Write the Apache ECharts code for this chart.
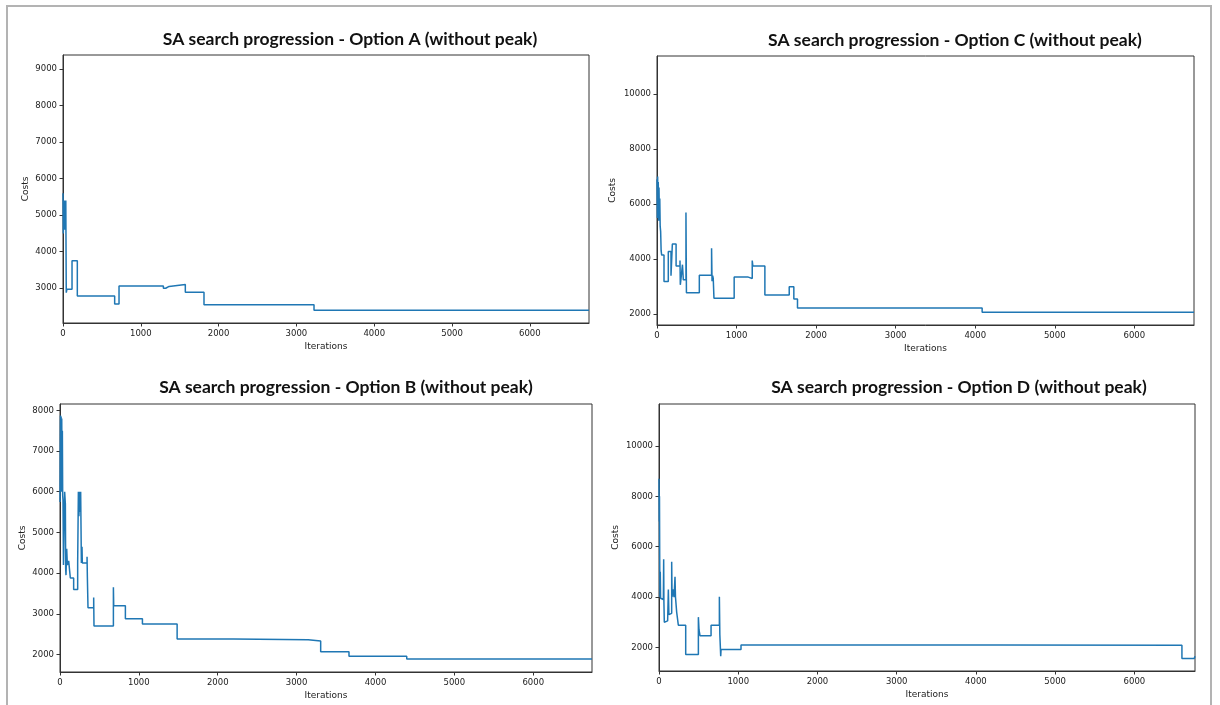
<!DOCTYPE html>
<html>
<head>
<meta charset="utf-8">
<title>SA search progression</title>
<script src="https://cdn.jsdelivr.net/npm/echarts@6.0.0/dist/echarts.min.js"></script>
<style>
    html, body { margin: 0; padding: 0; background: #fff; overflow: hidden; }
    #sa_charts { position: absolute; left: 0; top: 0; width: 1220px; height: 705px; }
    #frame { position: absolute; left: 6px; top: 5px; width: 1202px; height: 720px;
             border: 2px solid #b3b3b3; pointer-events: none; }
</style>
</head>
<body>
<div id="sa_charts"></div>
<div id="frame"></div>
<script>
// ------------------------------
// Data
// ------------------------------

var iterTicks = [0, 1000, 2000, 3000, 4000, 5000, 6000];

// Option A
var iterA = [0, 4, 8, 12, 16, 20, 24, 30, 36, 42, 50, 116, 184, 664, 720, 1290, 1320, 1363, 1572, 1812, 3226, 6760];
var costA = [5600, 4500, 5400, 4700, 5300, 4600, 5400, 5000, 5400, 2880, 2970, 3750, 2790, 2570, 3060, 3000, 3050, 3100, 2890, 2550, 2400, 2400];
var costTicksA = [3000, 4000, 5000, 6000, 7000, 8000, 9000];

// Option C
var iterC = [0, 4, 8, 12, 16, 20, 25, 30, 35, 40, 46, 52, 59, 88, 142, 176, 193, 240, 289, 293, 300, 320, 331, 364, 370, 532, 686, 692, 700, 707, 716, 970, 1147, 1197, 1205, 1356, 1662, 1720, 1766, 4087, 6750];
var costC = [6900, 5500, 7000, 6000, 6800, 5400, 6600, 5600, 6200, 5200, 5000, 4300, 4150, 3190, 4280, 3400, 4550, 3750, 3950, 3070, 3250, 3800, 3250, 5700, 2780, 3420, 4400, 3200, 3400, 3300, 2580, 3350, 3300, 3950, 3750, 2700, 3000, 2550, 2230, 2070, 2070];
var costTicksC = [2000, 4000, 6000, 8000, 10000];

// Option B
var iterB = [0, 3, 6, 10, 14, 18, 22, 26, 30, 34, 38, 44, 50, 59, 68, 72, 76, 85, 93, 110, 131, 173, 224, 233, 240, 248, 255, 262, 271, 279, 283, 343, 347, 355, 427, 431, 677, 681, 829, 1045, 1485, 2200, 3147, 3305, 3664, 4396, 6745];
var costB = [5750, 7000, 7870, 6500, 7850, 6000, 7800, 6400, 7500, 5900, 5800, 4200, 5000, 6000, 5700, 4100, 3950, 4600, 4200, 4300, 3880, 3600, 4250, 6000, 5400, 6000, 5500, 6000, 4250, 4650, 4250, 4400, 3900, 3150, 3400, 2700, 3650, 3200, 2880, 2750, 2380, 2360, 2330, 2070, 1960, 1890, 1890];
var costTicksB = [2000, 3000, 4000, 5000, 6000, 7000, 8000];

// Option D
var iterD = [0, 3, 6, 9, 12, 16, 20, 30, 55, 59, 62, 67, 90, 109, 118, 125, 140, 160, 165, 175, 190, 202, 208, 223, 244, 337, 497, 505, 518, 657, 762, 768, 779, 783, 1035, 4300, 6600, 6755, 6765];
var costD = [8700, 7000, 8000, 5500, 4000, 5000, 3950, 3900, 3850, 5500, 3800, 3000, 3050, 3100, 4300, 3300, 3350, 5400, 4000, 4300, 4000, 4800, 4000, 3400, 2880, 1720, 3200, 2700, 2460, 2880, 4010, 2500, 1650, 1910, 2090, 2080, 1560, 1560, 1650];
var costTicksD = [2000, 4000, 6000, 8000, 10000];

var titles = [
    'SA search progression - Option A (without peak)',
    'SA search progression - Option C (without peak)',
    'SA search progression - Option B (without peak)',
    'SA search progression - Option D (without peak)'
];


// Setup module
// ------------------------------

var SaProgression = function() {

    var pairs = function(xs, ys) {
        var out = [];
        for (var i = 0; i < xs.length; i++) {
            out.push([xs[i], ys[i]]);
        }
        return out;
    };

    // plain numbers, no thousands separator (matplotlib style)
    var plain = function(v) {
        return String(v);
    };

    var _sa = function() {
        if (typeof echarts == 'undefined') {
            console.warn('Warning - echarts.min.js is not loaded.');
            return;
        }

        var el = document.getElementById('sa_charts');
        if (!el) return;
        var chart = echarts.init(el);

        // panel layout: grid box, y range, "Costs" gap, title centre
        var panels = [
            {grid: {left: 63, top: 55, width: 526, height: 268}, min: 2050, max: 9380, ticks: costTicksA, gap: 33, tx: 349, ty: 25, data: pairs(iterA, costA), xmax: 6760},
            {grid: {left: 657, top: 56, width: 537, height: 269}, min: 1610, max: 11380, ticks: costTicksC, gap: 40, tx: 954, ty: 26, data: pairs(iterC, costC), xmax: 6750},
            {grid: {left: 60, top: 404, width: 532, height: 268}, min: 1570, max: 8155, ticks: costTicksB, gap: 33, tx: 345, ty: 373, data: pairs(iterB, costB), xmax: 6745},
            {grid: {left: 659, top: 404, width: 536, height: 267}, min: 1060, max: 11670, ticks: costTicksD, gap: 39, tx: 958, ty: 373, data: pairs(iterD, costD), xmax: 6765}
        ];

        var axisText = {color: '#222', fontFamily: 'DejaVu Sans', fontSize: 8.5, formatter: plain};
        var option = {
            animation: false,
            backgroundColor: '#fff',
            textStyle: {fontFamily: 'DejaVu Sans'},
            title: [], grid: [], xAxis: [], yAxis: [], series: []
        };

        panels.forEach(function(p, i) {
            option.title.push({
                text: titles[i],
                left: p.tx - 4,
                top: p.ty,
                textAlign: 'center',
                textStyle: {fontFamily: 'Lato', fontWeight: 'bold', fontSize: 17.5, color: '#111'}
            });
            option.grid.push({
                left: p.grid.left, top: p.grid.top, width: p.grid.width, height: p.grid.height,
                show: true, borderColor: '#333', borderWidth: 1, backgroundColor: '#fff'
            });
            option.xAxis.push({
                type: 'value', gridIndex: i, min: 0, max: p.xmax,
                name: 'Iterations', nameLocation: 'middle', nameGap: 19,
                nameTextStyle: {color: '#222', fontFamily: 'DejaVu Sans', fontSize: 9},
                axisLine: {show: true, lineStyle: {color: '#333', width: 1}},
                axisTick: {show: true, inside: false, length: 3.5, lineStyle: {color: '#333'}, customValues: iterTicks},
                axisLabel: Object.assign({margin: 6, customValues: iterTicks}, axisText),
                splitLine: {show: false}
            });
            option.yAxis.push({
                type: 'value', gridIndex: i, min: p.min, max: p.max,
                name: 'Costs', nameLocation: 'middle', nameGap: p.gap,
                nameTextStyle: {color: '#222', fontFamily: 'DejaVu Sans', fontSize: 9},
                axisLine: {show: true, lineStyle: {color: '#333', width: 1}},
                axisTick: {show: true, inside: false, length: 3.5, lineStyle: {color: '#333'}, customValues: p.ticks},
                axisLabel: Object.assign({margin: 6, customValues: p.ticks}, axisText),
                splitLine: {show: false}
            });
            option.series.push({
                type: 'line', xAxisIndex: i, yAxisIndex: i,
                step: 'end', showSymbol: false, symbol: 'none',
                lineStyle: {color: '#1f77b4', width: 1.5},
                data: p.data
            });
        });

        chart.setOption(option);
    };

    return {
        init: function() {
            _sa();
        }
    }
}();


// Initialize module
// ------------------------------

document.addEventListener('DOMContentLoaded', function() {
    SaProgression.init();
});
</script>
</body>
</html>
